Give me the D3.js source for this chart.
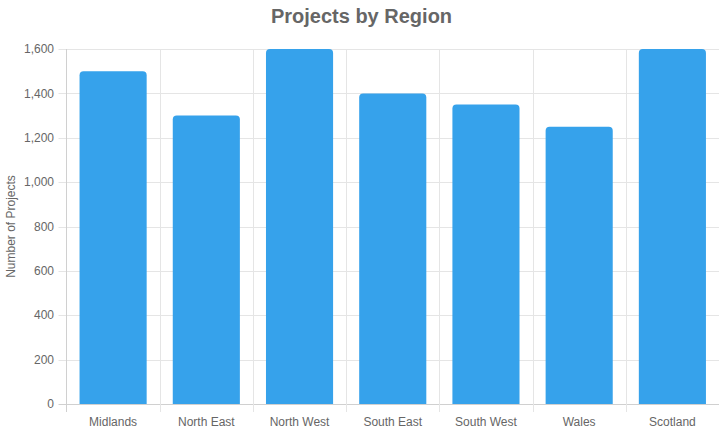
<!DOCTYPE html>
<html><head><meta charset="utf-8">
<script src="https://cdn.jsdelivr.net/npm/d3@7"></script>
<style>html,body{margin:0;padding:0;background:#fff;}svg{display:block;font-family:"Liberation Sans",Arial,Helvetica,sans-serif;}</style>
</head><body>
<svg id="c" width="719" height="433"></svg>
<script>
const categories = ["Midlands","North East","North West","South East","South West","Wales","Scotland"];
const values = [1500,1300,1600,1400,1350,1250,1600];
const yTicks = [0,200,400,600,800,1000,1200,1400,1600];
const titleText = "Projects by Region";
const yTitle = "Number of Projects";

const W = 719, H = 433;
const m = {left:66.5, right:719, top:49, bottom:404};
const svg = d3.select("#c");
const x = d3.scaleBand().domain(categories).range([m.left, m.right]).paddingInner(0).paddingOuter(0);
const y = d3.scaleLinear().domain([0,1600]).range([m.bottom, m.top]);
const grid = "#e5e5e5";

// horizontal gridlines + left ticks
svg.append("g").selectAll("line").data(yTicks).join("line")
  .attr("x1", m.left-8).attr("x2", m.right)
  .attr("y1", d=>Math.round(y(d))+0.5).attr("y2", d=>Math.round(y(d))+0.5)
  .attr("stroke", d=>d===0 ? "#d0d0d0" : grid).attr("stroke-width",1);

// vertical gridlines at band edges
const edges = categories.map(c=>x(c)).concat([m.right]);
svg.append("g").selectAll("line").data(edges.slice(1,-1)).join("line")
  .attr("x1", d=>Math.round(d)+0.5).attr("x2", d=>Math.round(d)+0.5)
  .attr("y1", m.top).attr("y2", m.bottom+8)
  .attr("stroke", grid);
// left axis line
svg.append("line").attr("x1", m.left).attr("x2", m.left).attr("y1", m.top).attr("y2", m.bottom+8).attr("stroke","#d0d0d0");

// y tick labels
svg.append("g").selectAll("text").data(yTicks).join("text")
  .attr("x", 54).attr("y", d=>y(d)).attr("dy","0.35em")
  .attr("text-anchor","end").attr("font-size",12).attr("fill","#666")
  .text(d=>d3.format(",")(d));

// x labels
svg.append("g").selectAll("text").data(categories).join("text")
  .attr("x", d=>x(d)+x.bandwidth()/2).attr("y", 426)
  .attr("text-anchor","middle").attr("font-size",12).attr("fill","#666")
  .text(d=>d);

// bars
const bw = x.bandwidth()*0.72;
const r = 4;
function barPath(x0, y0, w, y1){
  return `M${x0},${y1}L${x0},${y0+r}Q${x0},${y0} ${x0+r},${y0}L${x0+w-r},${y0}Q${x0+w},${y0} ${x0+w},${y0+r}L${x0+w},${y1}Z`;
}
svg.append("g").selectAll("path").data(categories).join("path")
  .attr("d",(d,i)=>barPath(x(d)+(x.bandwidth()-bw)/2, y(values[i]), bw, y(0)))
  .attr("fill","#36A2EB");

// title
svg.append("text").attr("x", W/2+2).attr("y", 23).attr("text-anchor","middle")
  .attr("font-size",20).attr("font-weight","bold").attr("fill","#666").text(titleText);

// y title
svg.append("text").attr("transform",`translate(15,${(m.top+m.bottom)/2}) rotate(-90)`)
  .attr("text-anchor","middle").attr("font-size",12).attr("fill","#666").text(yTitle);
</script>
</body></html>
